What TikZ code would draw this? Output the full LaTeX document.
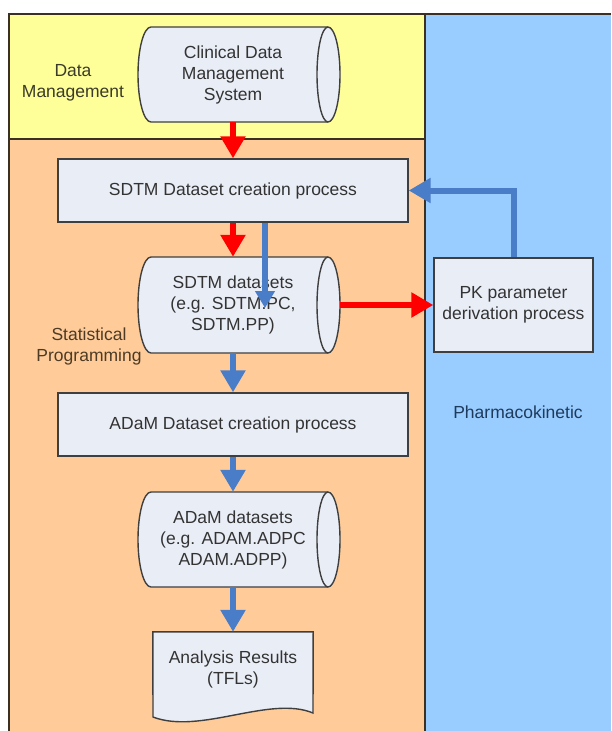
\documentclass[tikz,border=0pt]{standalone}
\usepackage{fontspec}
\setmainfont{Liberation Sans}
\usetikzlibrary{arrows.meta,calc}
\pgfdeclarelayer{back}
\pgfdeclarelayer{bg}
\pgfsetlayers{back,bg,main}
\definecolor{zoneY}{HTML}{FFFF99}
\definecolor{zoneO}{HTML}{FFCC99}
\definecolor{zoneB}{HTML}{99CCFF}
\definecolor{boxfill}{HTML}{E9EDF6}
\definecolor{boxline}{HTML}{3F3F3F}
\definecolor{framecol}{HTML}{3A3024}
\definecolor{txt}{HTML}{333333}
\definecolor{arrred}{HTML}{FF0000}
\definecolor{arrblue}{HTML}{4A7DC8}
\definecolor{dmcol}{HTML}{3B3B2B}
\definecolor{spcol}{HTML}{4D3B26}
\definecolor{pkcol}{HTML}{1F3B5C}
\tikzset{
 base/.style={font=\fontsize{17.5}{21}\selectfont, text=txt, align=center, inner sep=0pt},
 procbox/.style={base, draw=boxline, fill=boxfill, line width=1.4pt},
 cylnode/.style={base},
 cylshape/.style={draw=boxline, fill=boxfill, line width=1.4pt},
 redarrow/.style={draw=arrred, line width=6pt, -{Triangle[width=24pt,length=22pt]}},
 bluearrow/.style={draw=arrblue, line width=6pt, -{Triangle[width=24pt,length=22pt]}},
 zonelabel/.style={font=\fontsize{17.5}{21}\selectfont, align=center, inner sep=0pt},
 frameline/.style={draw=framecol, line width=1.5pt},
}
\newcommand\cylbody[2]{%
 \begin{pgfonlayer}{bg}
 \path[cylshape] ($(#1.center)+(-82,#2)$) -- ($(#1.center)+(95,#2)$)
   arc[start angle=90,end angle=-90,x radius=12,y radius=#2]
   -- ($(#1.center)+(-82,-#2)$)
   arc[start angle=270,end angle=90,x radius=13,y radius=#2] -- cycle;
 \draw[cylshape,fill=none] ($(#1.center)+(95,#2)$)
   arc[start angle=90,end angle=270,x radius=11,y radius=#2];
 \end{pgfonlayer}}
\begin{document}
\begin{tikzpicture}[x=1pt,y=1pt]
\useasboundingbox (0,0) rectangle (611,-731);
\begin{pgfonlayer}{back}
\fill[white] (0,0) rectangle (611,-731);
\fill[zoneY] (9,-14) rectangle (425,-139);
\fill[zoneO] (9,-139) rectangle (425,-731);
\fill[zoneB] (425,-14) rectangle (611,-731);
\draw[frameline] (611,-14) -- (9,-14) -- (9,-731);
\draw[frameline] (9,-139) -- (425,-139);
\draw[frameline] (425,-14) -- (425,-731);
\end{pgfonlayer}

% zone labels
\node[zonelabel, text=dmcol] (dm) at (73,-83) {Data\\Management};
\node[zonelabel, text=spcol] (sp) at (89,-346.5) {Statistical\\Programming};
\node[zonelabel, text=pkcol] (pkl) at (518,-412) {Pharmacokinetic};

% process boxes
\node[procbox, minimum width=350pt, minimum height=63pt] (sdtm) at (233,-190.5) {SDTM Dataset creation process};
\node[procbox, minimum width=350pt, minimum height=63pt] (adam) at (233,-424.5) {ADaM Dataset creation process};
\node[procbox, minimum width=159pt, minimum height=94pt] (pk) at (513.5,-305) {PK parameter\\derivation process};

% data stores
\node[cylnode, minimum width=214pt, minimum height=95pt] (cdms) at (233,-74.5) {Clinical Data\\Management\\System};
\cylbody{cdms}{47.5}
\node[cylnode, minimum width=214pt, minimum height=96pt] (sdtmds) at (233,-305) {SDTM datasets\\(e.g. SDTM.PC,\\SDTM.PP)};
\cylbody{sdtmds}{48}
\node[cylnode, minimum width=214pt, minimum height=95pt] (adamds) at (233,-539.5) {ADaM datasets\\(e.g. ADAM.ADPC\\ADAM.ADPP)};
\cylbody{adamds}{47.5}

% document
\node[base, minimum width=160pt, minimum height=75pt] (tfl) at (233,-669.5) {Analysis Results\\(TFLs)};
\begin{pgfonlayer}{bg}
\path[cylshape] (tfl.north west) -- (tfl.north east) -- ($(tfl.center)+(80,-43.5)$)
  .. controls ($(tfl.center)+(37,-25.5)$) and ($(tfl.center)+(-33,-65.5)$) ..
  ($(tfl.center)+(-80,-47.5)$) -- cycle;
\end{pgfonlayer}

% connectors
\draw[redarrow] (cdms.south) -- (sdtm.north);
\draw[redarrow] (sdtm.south) -- (sdtmds.north);
\coordinate (bAend) at (265,-308);
\draw[bluearrow, -{Triangle[width=19pt,length=17pt]}] (sdtm.south -| bAend) -- (bAend);
\draw[redarrow] (sdtmds.east) -- (pk.west);
\draw[bluearrow] (pk.north) |- (sdtm.east);
\draw[bluearrow] (sdtmds.south) -- (adam.north);
\draw[bluearrow] (adam.south) -- (adamds.north);
\draw[bluearrow] (adamds.south) -- (tfl.north);
\end{tikzpicture}
\end{document}
